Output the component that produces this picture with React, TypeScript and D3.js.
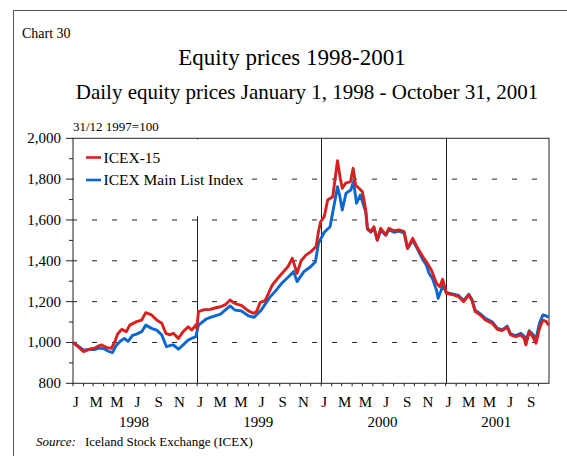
import React, { useEffect, useRef } from 'react';
import * as d3 from 'd3';

// ICEX-15 (red)
const icex15Dates = [
  '1998-01-01', '1998-01-12', '1998-02-01', '1998-02-20', '1998-03-05', '1998-03-20', '1998-03-26', '1998-04-09',
  '1998-04-24', '1998-05-04', '1998-05-12', '1998-05-24', '1998-06-07', '1998-06-17', '1998-07-07', '1998-07-22',
  '1998-08-03', '1998-08-20', '1998-09-04', '1998-09-19', '1998-10-01', '1998-10-13', '1998-10-23', '1998-11-07',
  '1998-11-21', '1998-12-06', '1998-12-16', '1998-12-28', '1998-12-31',
  '1999-01-05', '1999-01-20', '1999-02-09', '1999-02-25', '1999-03-11', '1999-03-25', '1999-04-08', '1999-04-18',
  '1999-04-28', '1999-05-11', '1999-05-31', '1999-06-15', '1999-06-25', '1999-07-05', '1999-07-20', '1999-08-10',
  '1999-08-30', '1999-09-25', '1999-10-08', '1999-10-22', '1999-11-03', '1999-11-17', '1999-12-02', '1999-12-17',
  '1999-12-24', '1999-12-30',
  '2000-01-10', '2000-01-20', '2000-02-04', '2000-02-13', '2000-02-18', '2000-02-26', '2000-03-03', '2000-03-13',
  '2000-03-27', '2000-04-04', '2000-04-11', '2000-04-21', '2000-05-01', '2000-05-11', '2000-05-16', '2000-05-26',
  '2000-06-04', '2000-06-14', '2000-06-24', '2000-07-09', '2000-07-18', '2000-08-02', '2000-08-17', '2000-09-01',
  '2000-09-11', '2000-09-26', '2000-10-11', '2000-10-26', '2000-11-05', '2000-11-20', '2000-12-05', '2000-12-15',
  '2000-12-23', '2000-12-31',
  '2001-01-03', '2001-01-20', '2001-02-08', '2001-02-23', '2001-03-10', '2001-03-19', '2001-03-29', '2001-04-13',
  '2001-04-28', '2001-05-08', '2001-05-18', '2001-06-02', '2001-06-16', '2001-07-01', '2001-07-11', '2001-07-26',
  '2001-08-10', '2001-08-20', '2001-08-25', '2001-09-04', '2001-09-14', '2001-09-24', '2001-10-04', '2001-10-14',
  '2001-10-24', '2001-10-31'
];
const icex15Values = [
  1000, 985, 955, 967, 972, 985, 988, 976, 971, 1004, 1040, 1064, 1053, 1085, 1102, 1110,
  1146, 1135, 1110, 1094, 1045, 1037, 1045, 1020, 1053, 1077, 1061, 1085, 1069,
  1151, 1160, 1162, 1170, 1175, 1185, 1208, 1195, 1188, 1182, 1156, 1143, 1151, 1195, 1205, 1281,
  1322, 1371, 1412, 1339, 1400, 1428, 1445, 1470, 1543, 1590,
  1616, 1698, 1714, 1829, 1890, 1804, 1755, 1780, 1788, 1853, 1771, 1755, 1739, 1649, 1559, 1543,
  1567, 1502, 1559, 1527, 1559, 1547, 1551, 1543, 1461, 1510, 1461, 1420, 1396, 1355, 1290, 1273,
  1310, 1260,
  1241, 1235, 1224, 1200, 1233, 1208, 1151, 1135, 1110, 1102, 1094, 1064, 1058, 1074, 1037, 1028,
  1037, 1020, 988, 1053, 1028, 996, 1069, 1110, 1102, 1085
];

// ICEX Main List Index (blue)
const mainDates = [
  '1998-01-01', '1998-01-12', '1998-02-01', '1998-02-20', '1998-03-05', '1998-03-20', '1998-04-01', '1998-04-15',
  '1998-04-27', '1998-05-08', '1998-05-20', '1998-06-01', '1998-06-12', '1998-06-25', '1998-07-07', '1998-07-22',
  '1998-08-03', '1998-08-20', '1998-09-04', '1998-09-19', '1998-10-03', '1998-10-13', '1998-10-23', '1998-11-07',
  '1998-11-21', '1998-12-06', '1998-12-16', '1998-12-28',
  '1999-01-05', '1999-01-28', '1999-02-09', '1999-03-11', '1999-04-08', '1999-04-22', '1999-05-10', '1999-06-02',
  '1999-06-17', '1999-07-07', '1999-08-04', '1999-08-18', '1999-09-07', '1999-09-27', '1999-10-12', '1999-10-22',
  '1999-11-11', '1999-12-01', '1999-12-15', '1999-12-24',
  '2000-01-03', '2000-01-10', '2000-01-27', '2000-02-07', '2000-02-18', '2000-02-25', '2000-03-03', '2000-03-14',
  '2000-03-28', '2000-04-05', '2000-04-14', '2000-04-25', '2000-05-11', '2000-05-16', '2000-05-26', '2000-06-04',
  '2000-06-14', '2000-06-24', '2000-07-09', '2000-07-18', '2000-08-02', '2000-08-17', '2000-09-01', '2000-09-11',
  '2000-09-26', '2000-10-11', '2000-10-26', '2000-11-05', '2000-11-13', '2000-11-23', '2000-12-05', '2000-12-10',
  '2000-12-15', '2000-12-25', '2000-12-31',
  '2001-01-03', '2001-01-20', '2001-02-08', '2001-02-23', '2001-03-10', '2001-03-19', '2001-03-29', '2001-04-13',
  '2001-04-28', '2001-05-08', '2001-05-18', '2001-06-02', '2001-06-16', '2001-07-01', '2001-07-11', '2001-07-26',
  '2001-08-10', '2001-08-20', '2001-08-25', '2001-09-04', '2001-09-14', '2001-09-24', '2001-10-04', '2001-10-14',
  '2001-10-24', '2001-10-31'
];
const mainValues = [
  1000, 988, 962, 967, 965, 972, 970, 957, 950, 985, 1006, 1020, 1005, 1035, 1041, 1053,
  1085, 1069, 1061, 1037, 979, 985, 988, 967, 988, 1012, 1020, 1028,
  1085, 1115, 1123, 1139, 1179, 1159, 1155, 1130, 1123, 1155, 1224, 1249, 1290, 1322, 1347, 1298,
  1347, 1371, 1395, 1486,
  1518, 1540, 1567, 1665, 1763, 1714, 1649, 1731, 1747, 1788, 1682, 1722, 1640, 1555, 1540, 1560,
  1500, 1550, 1525, 1552, 1540, 1545, 1535, 1460, 1500, 1455, 1405, 1380, 1339, 1314, 1257, 1216,
  1240, 1280, 1255,
  1245, 1238, 1230, 1205, 1236, 1212, 1158, 1140, 1118, 1110, 1100, 1070, 1062, 1080, 1042, 1034,
  1045, 1030, 1010, 1058, 1040, 1020, 1094, 1135, 1130, 1122
];

const yTicks = [800, 1000, 1200, 1400, 1600, 1800, 2000];
const yMinorTicks = [900, 1100, 1300, 1500, 1700, 1900];
const gridValues = [1000, 1200, 1400, 1600, 1800];
const monthLetters = ['J', 'M', 'M', 'J', 'S', 'N'];
const years = [1998, 1999, 2000, 2001];

const App = () => {
  const svgRef = useRef(null);

  useEffect(() => {
    const svg = d3.select(svgRef.current);
    svg.selectAll('*').remove();

    const font = '"Liberation Serif", "Times New Roman", serif';
    const parse = d3.timeParse('%Y-%m-%d');
    const left = 73, right = 549, top = 138.3, bottom = 383.3;
    const start = new Date(1998, 0, 1);
    const end = new Date(2001, 10, 1);

    const x = d3.scaleTime().domain([start, end]).range([left, right]);
    const y = d3.scaleLinear().domain([800, 2000]).range([bottom, top]);

    // outer frame
    svg.append('rect')
      .attr('x', 13.5).attr('y', 10.5)
      .attr('width', 600).attr('height', 500)
      .attr('fill', 'none').attr('stroke', '#555').attr('stroke-width', 1);

    svg.append('text').attr('x', 22).attr('y', 38)
      .style('font-family', font).style('font-size', '14px').text('Chart 30');
    svg.append('text').attr('x', 292).attr('y', 65).attr('text-anchor', 'middle')
      .style('font-family', font).style('font-size', '23px').text('Equity prices 1998-2001');
    svg.append('text').attr('x', 307).attr('y', 99).attr('text-anchor', 'middle')
      .style('font-family', font).style('font-size', '21px')
      .text('Daily equity prices January 1, 1998 - October 31, 2001');
    svg.append('text').attr('x', 73).attr('y', 131)
      .style('font-family', font).style('font-size', '13px').text('31/12 1997=100');

    // dashed gridlines
    gridValues.forEach(v => {
      svg.append('line')
        .attr('x1', left).attr('x2', right)
        .attr('y1', y(v)).attr('y2', y(v))
        .attr('stroke', '#222').attr('stroke-width', 1)
        .attr('stroke-dasharray', '5 15').attr('stroke-dashoffset', 1);
    });

    // year dividers
    years.slice(1).forEach(yr => {
      const xx = Math.round(x(new Date(yr, 0, 1))) + 0.5;
      svg.append('line')
        .attr('x1', xx).attr('x2', xx)
        .attr('y1', top).attr('y2', bottom)
        .attr('stroke', '#222').attr('stroke-width', 1);
    });

    // legend background
    svg.append('rect')
      .attr('x', left + 1).attr('y', top + 1)
      .attr('width', 177).attr('height', 77)
      .attr('fill', '#fff');

    // y axis
    const yAxis = svg.append('g').style('font-family', font).style('font-size', '15px');
    yTicks.forEach(v => {
      yAxis.append('line')
        .attr('x1', left - 7).attr('x2', left)
        .attr('y1', y(v)).attr('y2', y(v))
        .attr('stroke', '#222');
      yAxis.append('text')
        .attr('x', left - 12).attr('y', y(v) + 5)
        .attr('text-anchor', 'end')
        .text(d3.format(',')(v));
    });
    yMinorTicks.forEach(v => {
      yAxis.append('line')
        .attr('x1', left - 4).attr('x2', left)
        .attr('y1', y(v)).attr('y2', y(v))
        .attr('stroke', '#222');
    });

    // x axis: monthly ticks, bi-monthly letters, year labels
    const months = d3.timeMonth.range(start, end);
    months.forEach(m => {
      svg.append('line')
        .attr('x1', x(m)).attr('x2', x(m))
        .attr('y1', bottom).attr('y2', bottom + 3)
        .attr('stroke', '#222');
    });
    years.forEach(yr => {
      monthLetters.forEach((letter, i) => {
        const m = new Date(yr, i * 2, 1);
        if (m >= end) return;
        svg.append('text')
          .attr('x', x(m) + 3).attr('y', 407)
          .attr('text-anchor', 'middle')
          .style('font-family', font).style('font-size', '15px')
          .text(letter);
      });
      const ys = x(new Date(yr, 0, 1));
      const ye = Math.min(x(new Date(yr + 1, 0, 1)), right);
      svg.append('text')
        .attr('x', (ys + ye) / 2 - 1).attr('y', 427)
        .attr('text-anchor', 'middle')
        .style('font-family', font).style('font-size', '15px')
        .text(String(yr));
    });

    // plot frame
    svg.append('rect')
      .attr('x', left).attr('y', top)
      .attr('width', right - left).attr('height', bottom - top)
      .attr('fill', 'none').attr('stroke', '#222').attr('stroke-width', 1);

    // series
    const line = d3.line()
      .x(d => x(d[0]))
      .y(d => y(d[1]));

    const mainData = mainDates.map((d, i) => [parse(d), mainValues[i]]);
    const icexData = icex15Dates.map((d, i) => [parse(d), icex15Values[i]]);

    svg.append('path').datum(mainData)
      .attr('d', line)
      .attr('fill', 'none').attr('stroke', '#0a66d0')
      .attr('stroke-width', 2.9).attr('stroke-linejoin', 'round');
    svg.append('path').datum(icexData)
      .attr('d', line)
      .attr('fill', 'none').attr('stroke', '#d9201f')
      .attr('stroke-width', 2.9).attr('stroke-linejoin', 'round');

    // legend
    const legend = [
      { label: 'ICEX-15', color: '#d9201f', y: 157.5 },
      { label: 'ICEX Main List Index', color: '#0a66d0', y: 180 }
    ];
    legend.forEach(l => {
      svg.append('line')
        .attr('x1', 86).attr('x2', 101)
        .attr('y1', l.y).attr('y2', l.y)
        .attr('stroke', l.color).attr('stroke-width', 2.6);
      svg.append('text')
        .attr('x', 103.5).attr('y', l.y + 5)
        .style('font-family', font).style('font-size', '15.5px')
        .text(l.label);
    });

    // source
    const src = svg.append('text').attr('x', 36).attr('y', 446)
      .style('font-family', font).style('font-size', '13px');
    src.append('tspan').style('font-style', 'italic').text('Source:');
    src.append('tspan').attr('x', 85).text('Iceland Stock Exchange (ICEX)');
  }, []);

  return (
    <svg
      ref={svgRef}
      width={567}
      height={456}
      style={{ position: 'absolute', left: 0, top: 0, background: '#fff' }}
    />
  );
};

export default App;
